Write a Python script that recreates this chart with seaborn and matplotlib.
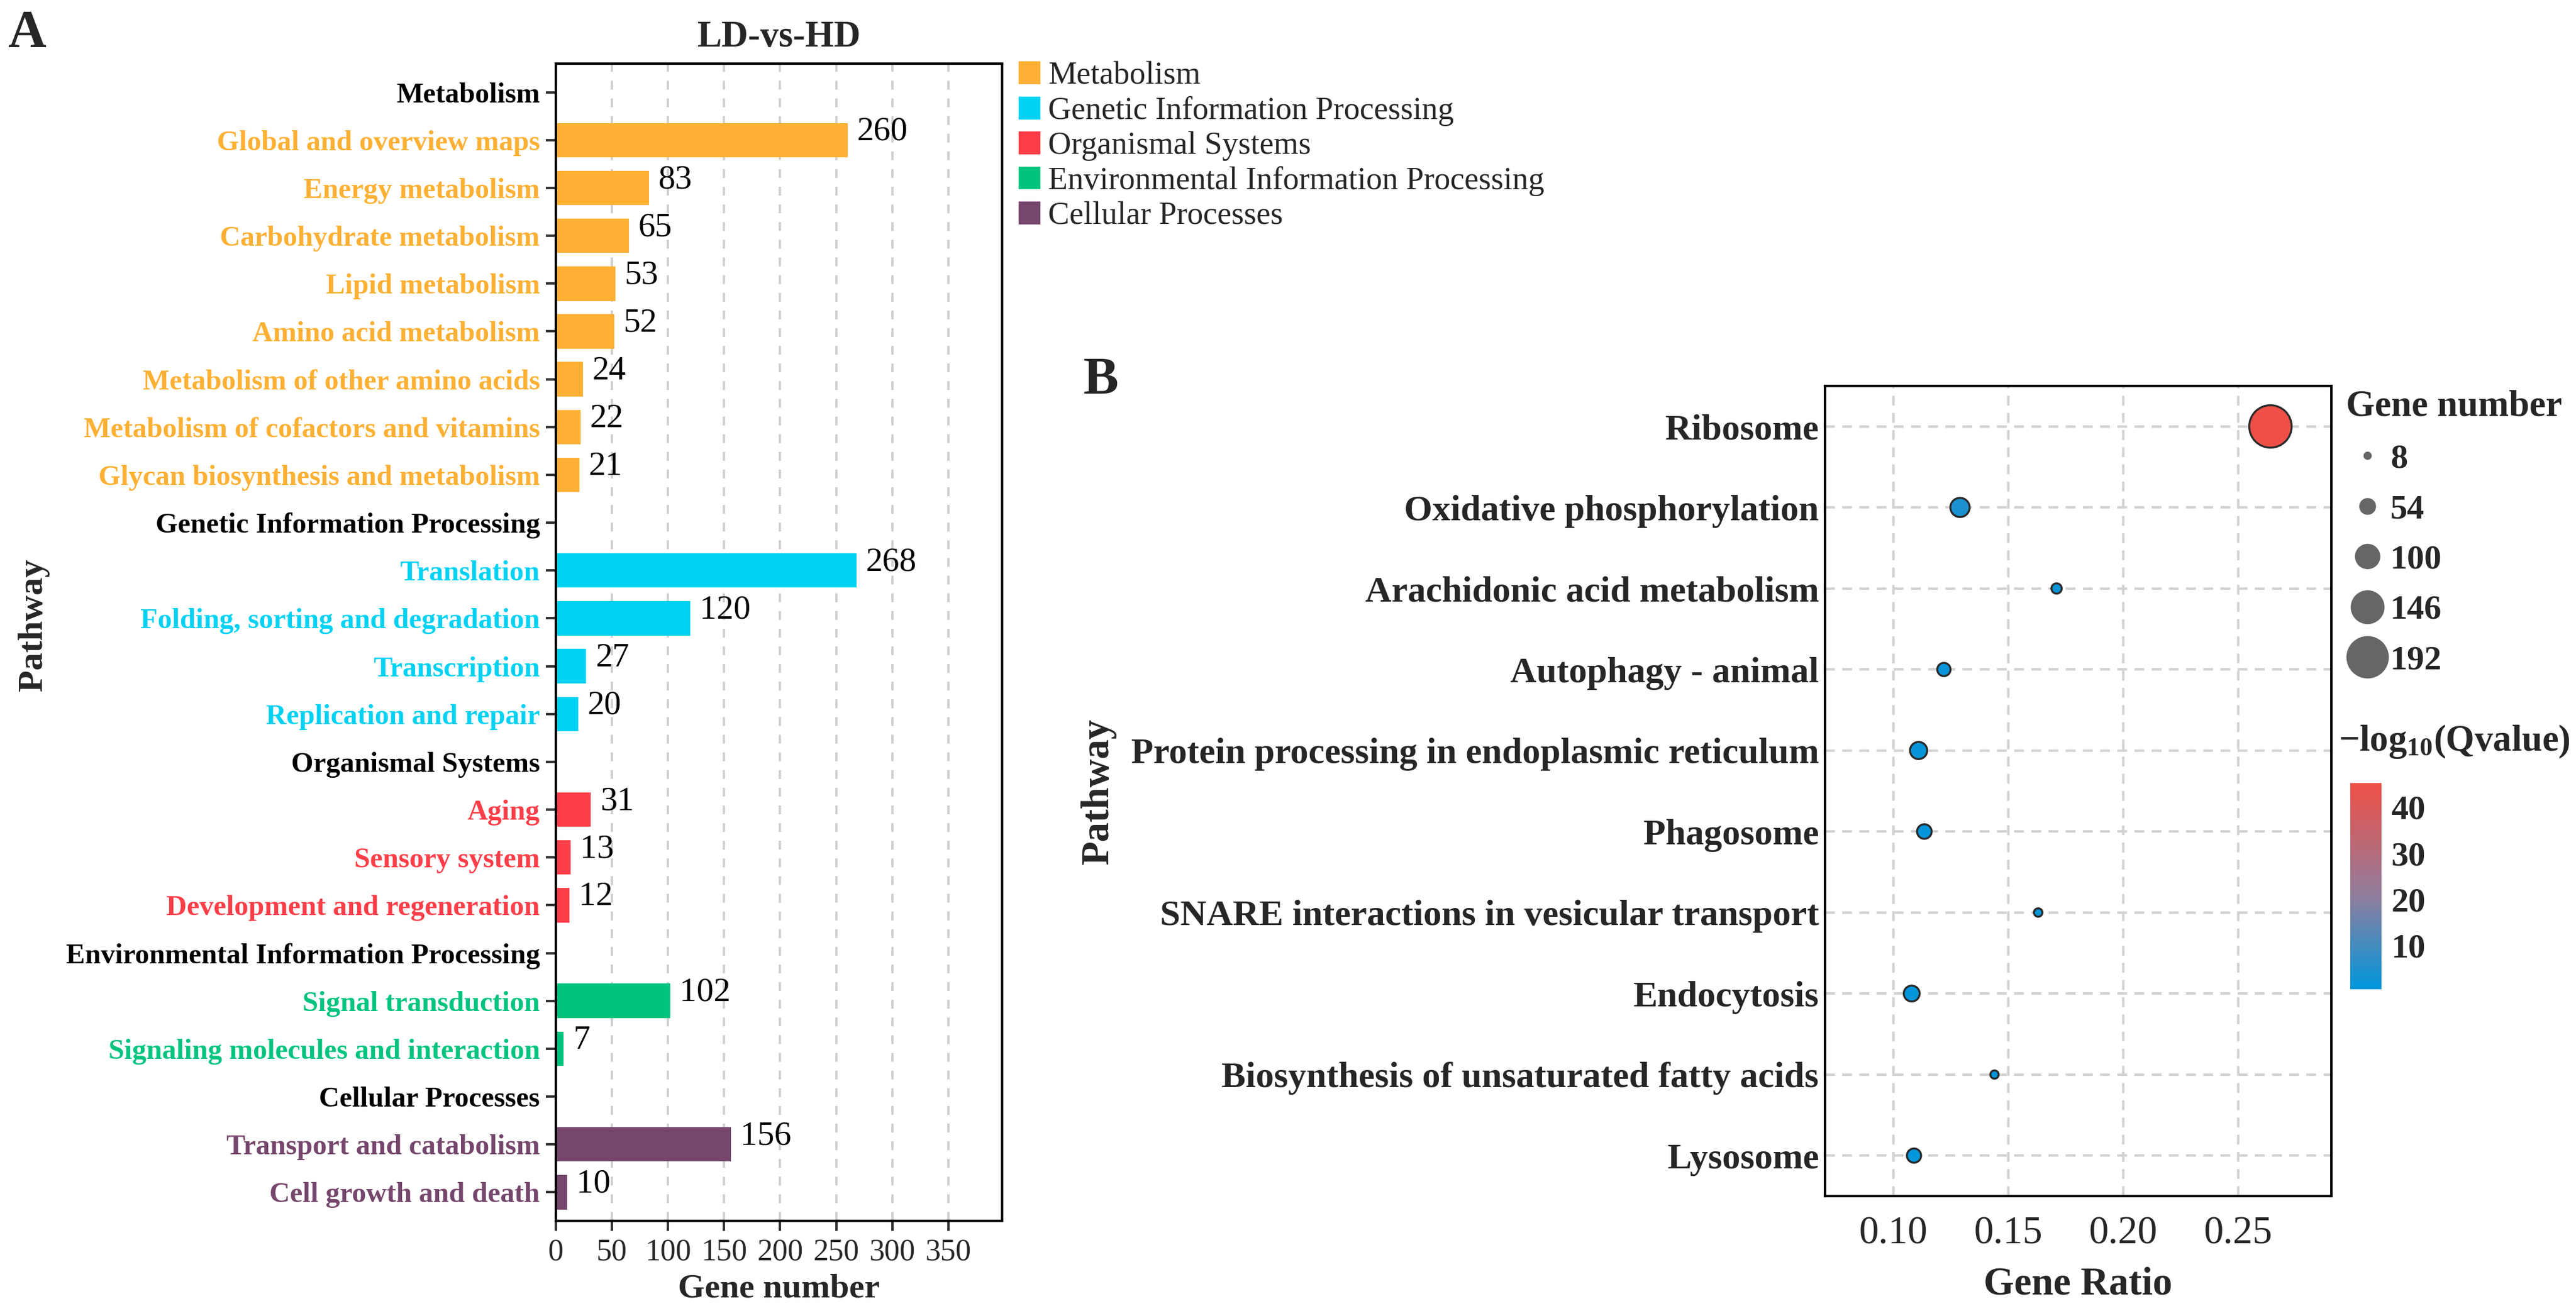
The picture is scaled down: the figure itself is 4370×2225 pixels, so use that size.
import numpy as np
import pandas as pd
import matplotlib
matplotlib.use("Agg")
import matplotlib.pyplot as plt
import seaborn as sns
from matplotlib.colors import LinearSegmentedColormap, Normalize
from matplotlib.patches import Patch
from matplotlib.lines import Line2D

# ---------------- Panel A data ----------------
a_pathways = [
    "Metabolism", "Global and overview maps", "Energy metabolism", "Carbohydrate metabolism",
    "Lipid metabolism", "Amino acid metabolism", "Metabolism of other amino acids",
    "Metabolism of cofactors and vitamins", "Glycan biosynthesis and metabolism",
    "Genetic Information Processing", "Translation", "Folding, sorting and degradation",
    "Transcription", "Replication and repair",
    "Organismal Systems", "Aging", "Sensory system", "Development and regeneration",
    "Environmental Information Processing", "Signal transduction", "Signaling molecules and interaction",
    "Cellular Processes", "Transport and catabolism", "Cell growth and death",
]
a_counts = [0, 260, 83, 65, 53, 52, 24, 22, 21,
            0, 268, 120, 27, 20,
            0, 31, 13, 12,
            0, 102, 7,
            0, 156, 10]
a_groups = (["Metabolism"] * 9 + ["Genetic Information Processing"] * 5 +
            ["Organismal Systems"] * 4 + ["Environmental Information Processing"] * 3 +
            ["Cellular Processes"] * 3)
group_names = ["Metabolism", "Genetic Information Processing", "Organismal Systems",
               "Environmental Information Processing", "Cellular Processes"]
group_colors = ["#FDB033", "#00D2F4", "#FD3E48", "#00C47E", "#76466C"]
a_xticks = [0, 50, 100, 150, 200, 250, 300, 350]

# ---------------- Panel B data ----------------
b_pathways = ["Ribosome", "Oxidative phosphorylation", "Arachidonic acid metabolism",
              "Autophagy - animal", "Protein processing in endoplasmic reticulum", "Phagosome",
              "SNARE interactions in vesicular transport", "Endocytosis",
              "Biosynthesis of unsaturated fatty acids", "Lysosome"]
b_ratio = [0.264, 0.129, 0.171, 0.122, 0.111, 0.1135, 0.163, 0.108, 0.144, 0.109]
b_genes = [192, 67, 19, 35, 56, 42, 9, 49, 8, 40]
b_logq = [45.2, 4.5, 2.1, 1.6, 1.5, 1.3, 1.1, 0.9, 0.8, 0.5]
size_breaks = [8, 54, 100, 146, 192]
q_ticks = [10, 20, 30, 40]
b_xticks = [0.10, 0.15, 0.20, 0.25]

# ---------------- style ----------------
SERIF = ["Liberation Serif", "DejaVu Serif"]
sns.set_theme(style="white")
plt.rcParams["font.family"] = SERIF
plt.rcParams["font.serif"] = SERIF
plt.rcParams["mathtext.fontset"] = "custom"
plt.rcParams["mathtext.rm"] = "Liberation Serif:bold"
plt.rcParams["mathtext.bf"] = "Liberation Serif:bold"
plt.rcParams["mathtext.it"] = "Liberation Serif:bold"

W, H, DPI = 4370, 2225, 300
fig = plt.figure(figsize=(W / DPI, H / DPI), dpi=DPI)

def fx(px):
    return px / W

def fy(py):
    return 1 - py / H

def style_labels(labels, size, weight="normal"):
    for lab in labels:
        lab.set_fontfamily(SERIF)
        lab.set_fontsize(size)
        lab.set_fontweight(weight)

# ================= Panel A =================
axA = fig.add_axes([fx(943), fy(2072), fx(1700 - 943), (2072 - 108) / H])
dfa = pd.DataFrame({"pathway": a_pathways, "count": a_counts, "group": a_groups})
pal = dict(zip(group_names, group_colors))
sns.barplot(data=dfa, x="count", y="pathway", hue="group", hue_order=group_names,
            order=a_pathways, palette=pal, dodge=False, width=0.72, saturation=1,
            linewidth=0, legend=False, ax=axA)
axA.set_xlim(0, 398)
axA.set_ylim(len(a_pathways) - 1 + 0.6, -0.6)
axA.set_xticks(a_xticks, labels=[str(t) for t in a_xticks])
axA.xaxis.grid(True, linestyle=(0, (4, 4)), color="#CFCFCF", linewidth=0.9)
axA.yaxis.grid(False)
axA.set_axisbelow(True)
for s in axA.spines.values():
    s.set_visible(True)
    s.set_color("black")
    s.set_linewidth(1.0)
axA.tick_params(axis="y", length=4, width=1, color="#333333", pad=2.5, left=True)
axA.tick_params(axis="x", length=4, width=1, color="#333333", pad=3, bottom=True)
style_labels(axA.get_xticklabels(), 12.5)
style_labels(axA.get_yticklabels(), 11.6, "bold")
for lab in axA.get_yticklabels():
    t = lab.get_text()
    if t in group_names:
        lab.set_color("black")
    else:
        lab.set_color(pal[a_groups[a_pathways.index(t)]])
for p in axA.patches:
    w = p.get_width()
    if w > 0:
        axA.annotate(f"{w:.0f}", xy=(w, p.get_y() + p.get_height() / 2),
                     xytext=(3.8, 0), textcoords="offset points",
                     ha="left", va="baseline", fontsize=13.8, color="black")
axA.set_xlabel("Gene number", fontsize=14, fontweight="bold", labelpad=3)
axA.set_ylabel("Pathway", fontsize=14.5, fontweight="heavy")
axA.yaxis.set_label_coords(-1.135, 0.515)
axA.set_title("LD-vs-HD", fontsize=15, fontweight="bold", pad=7)

handlesA = [Patch(facecolor=c, edgecolor="none") for c in group_colors]
fig.legend(handlesA, group_names, loc="upper left", bbox_to_anchor=(fx(1728), fy(104)),
           frameon=False, fontsize=13, handlelength=0.68, handleheight=0.72,
           handletextpad=0.25, labelspacing=0.16, borderpad=0, borderaxespad=0)

# ================= Panel B =================
axB = fig.add_axes([fx(3096), fy(2030), fx(3955 - 3096), (2030 - 655) / H])
dfb = pd.DataFrame({"pathway": b_pathways, "ratio": b_ratio, "genes": b_genes, "logq": b_logq})

cmap = LinearSegmentedColormap.from_list(
    "qv", [(0.0, "#0096DC"), (0.45, "#907E9E"), (1.0, "#EE5047")])
norm = Normalize(vmin=min(b_logq), vmax=max(b_logq))

def diam_pt(g):
    # diameter linear in gene number (px at 300 dpi -> points)
    px = 14 + (g - size_breaks[0]) / (size_breaks[-1] - size_breaks[0]) * 58
    return px * 72 / DPI

size_map = {g: diam_pt(g) ** 2 for g in sorted(set(b_genes))}
sns.scatterplot(data=dfb, x="ratio", y="pathway", size="genes", sizes=size_map,
                hue="logq", palette=cmap, hue_norm=norm, edgecolor="#2A2A2A",
                linewidth=0.8, legend=False, ax=axB, zorder=3)
axB.set_xlim(0.0703, 0.2905)
axB.set_ylim(len(b_pathways) - 0.5, -0.5)
axB.set_xticks(b_xticks, labels=[f"{t:.2f}" for t in b_xticks])
axB.grid(True, linestyle=(0, (4, 3)), color="#D2D2D2", linewidth=1.0)
axB.set_axisbelow(True)
for s in axB.spines.values():
    s.set_visible(True)
    s.set_color("black")
    s.set_linewidth(1.0)
axB.tick_params(axis="y", length=0, pad=2.5)
axB.tick_params(axis="x", length=0, pad=8)
style_labels(axB.get_xticklabels(), 16)
style_labels(axB.get_yticklabels(), 14.8, "bold")
axB.set_xlabel("Gene Ratio", fontsize=16, fontweight="bold", labelpad=6)
axB.set_ylabel("Pathway", fontsize=16, fontweight="heavy")
axB.yaxis.set_label_coords(-1.40, 0.5)

# size legend
handlesB = [Line2D([], [], marker="o", linestyle="", markersize=diam_pt(b),
                   markerfacecolor="#666666", markeredgewidth=0) for b in size_breaks]
legB = fig.legend(handlesB, [str(b) for b in size_breaks], loc="upper left",
                  bbox_to_anchor=(fx(3980), fy(662)), frameon=False,
                  prop={"weight": "bold", "size": 14, "family": SERIF}, title="Gene number",
                  title_fontproperties={"weight": "bold", "size": 15, "family": SERIF},
                  handlelength=1.23, handletextpad=0.05, labelspacing=0.56,
                  borderpad=0, borderaxespad=0)
legB._legend_box.align = "left"

# colour bar
fig.text(fx(3967), fy(1259), r"$-\mathrm{log}_{10}\mathrm{(Qvalue)}$", fontsize=15,
         ha="left", va="center")
cax = fig.add_axes([fx(3987), fy(1679), fx(53), 350 / H])
sm = plt.cm.ScalarMappable(norm=norm, cmap=cmap)
cb = fig.colorbar(sm, cax=cax)
cb.set_ticks(q_ticks, labels=[str(t) for t in q_ticks])
cb.outline.set_visible(False)
cax.tick_params(which="both", direction="in", length=2.6, width=1, color="white",
                left=True, right=True, pad=4)
style_labels(cax.get_yticklabels(), 14, "bold")

# panel letters
fig.text(fx(46), fy(58), "A", fontsize=21.5, fontweight="bold", ha="center", va="center")
fig.text(fx(1867), fy(647), "B", fontsize=21.5, fontweight="bold", ha="center", va="center")

fig.savefig("out.png", dpi=DPI)
